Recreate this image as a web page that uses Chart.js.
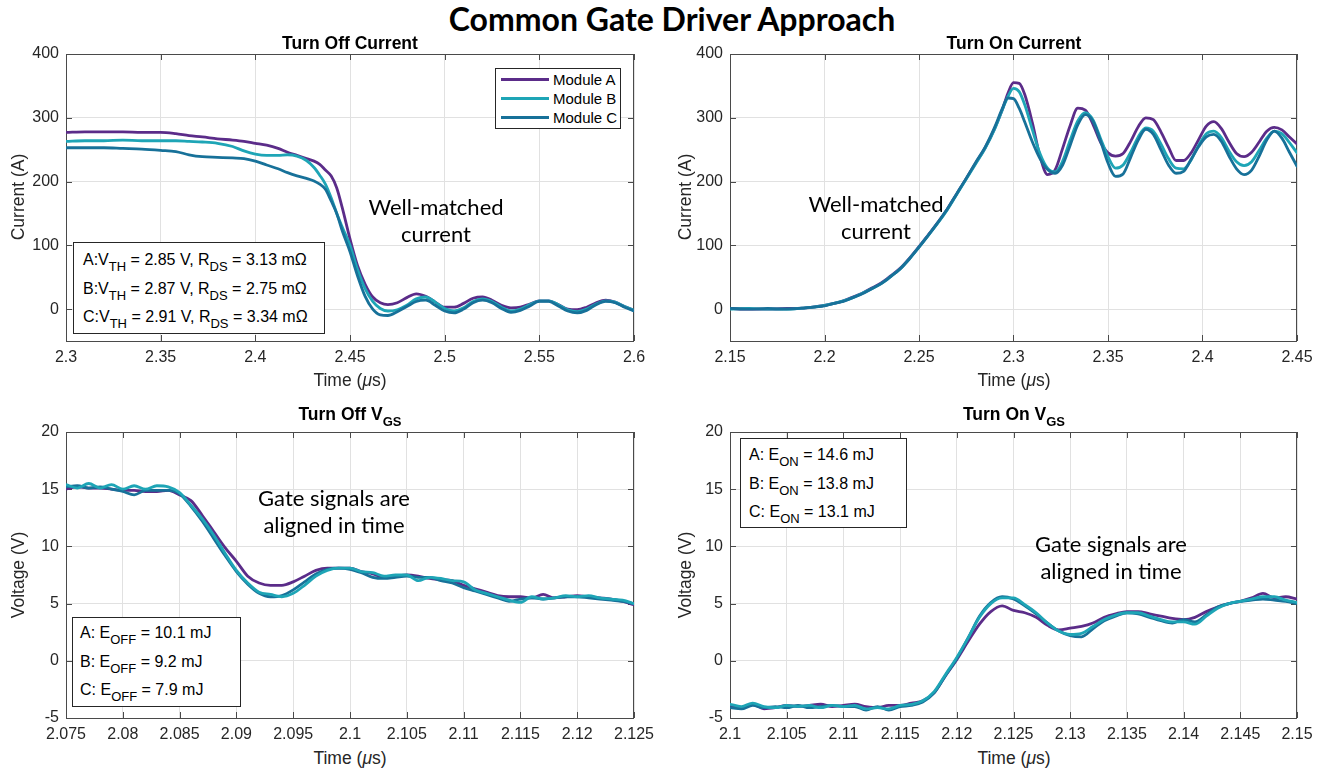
<!DOCTYPE html>
<html>
<head>
<meta charset="utf-8">
<title>Common Gate Driver Approach</title>
<script src="https://cdn.jsdelivr.net/npm/chart.js@4.4.1/dist/chart.umd.min.js"></script>
<style>
  html, body { margin: 0; padding: 0; background: #fff; }
  #page { position: relative; width: 1323px; height: 771px; overflow: hidden;
          font-family: "Liberation Sans", Arial, Helvetica, sans-serif; color: #000; }
  canvas { position: absolute; }
  .txt { position: absolute; white-space: nowrap; line-height: 1; }
  .ctr { transform: translateX(-50%); }
  .main { font-family: Lato, "Open Sans", sans-serif; font-weight: 700; font-size: 32px; }
  .ptitle { font-weight: 700; font-size: 17.5px; color: #000; }
  .ptitle .s { font-size: 13px; position: relative; top: 6px; }
  .axis { font-size: 17.5px; color: #262626; }
  .yaxis { transform: translate(-50%, -50%) rotate(-90deg); }
  .note { position: absolute; font-family: Lato, "Open Sans", sans-serif; font-size: 22px;
          line-height: 27px; text-align: center; transform: translateX(-50%); white-space: nowrap; }
  .box { position: absolute; background: #fff; border: 1px solid #262626; box-sizing: border-box;
         font-size: 16px; color: #000; }
  .box div { line-height: 27.5px; white-space: nowrap; }
  .box .s { font-size: 13px; position: relative; top: 6px; }
  .legend { position: absolute; background: #fff; border: 1px solid #262626; box-sizing: border-box; }
  .legend .sw { position: absolute; left: 5px; width: 48px; height: 3px; }
  .legend .lt { position: absolute; left: 57px; font-size: 15px; line-height: 1; white-space: nowrap; }
</style>
</head>
<body>
<div id="page">
  <div class="txt main ctr" style="left:672px; top:3px;">Common Gate Driver Approach</div>

  <canvas id="offCurrent"></canvas>
  <canvas id="onCurrent"></canvas>
  <canvas id="offVgs"></canvas>
  <canvas id="onVgs"></canvas>

  <!-- panel titles -->
  <div class="txt ptitle ctr" style="left:350px; top:35px;">Turn Off Current</div>
  <div class="txt ptitle ctr" style="left:1014px; top:35px;">Turn On Current</div>
  <div class="txt ptitle ctr" style="left:350px; top:406px;">Turn Off V<span class="s">GS</span></div>
  <div class="txt ptitle ctr" style="left:1014px; top:406px;">Turn On V<span class="s">GS</span></div>

  <!-- axis titles -->
  <div class="txt axis yaxis" style="left:19px; top:197px;">Current (A)</div>
  <div class="txt axis yaxis" style="left:686px; top:197px;">Current (A)</div>
  <div class="txt axis yaxis" style="left:19px; top:575px;">Voltage (V)</div>
  <div class="txt axis yaxis" style="left:686px; top:575px;">Voltage (V)</div>
  <div class="txt axis ctr" style="left:350px; top:372px;">Time (<i>μ</i>s)</div>
  <div class="txt axis ctr" style="left:1014px; top:372px;">Time (<i>μ</i>s)</div>
  <div class="txt axis ctr" style="left:350px; top:750px;">Time (<i>μ</i>s)</div>
  <div class="txt axis ctr" style="left:1014px; top:750px;">Time (<i>μ</i>s)</div>

  <!-- callouts -->
  <div class="note" style="left:436px; top:193px;">Well-matched<br>current</div>
  <div class="note" style="left:876px; top:190px;">Well-matched<br>current</div>
  <div class="note" style="left:334px; top:484px;">Gate signals are<br>aligned in time</div>
  <div class="note" style="left:1111px; top:530px;">Gate signals are<br>aligned in time</div>

  <!-- device parameter boxes -->
  <div class="box" style="left:73px; top:242px; width:252px; height:92px; padding:3px 0 0 9px;">
    <div>A:V<span class="s">TH</span> = 2.85 V, R<span class="s">DS</span> = 3.13 mΩ</div>
    <div>B:V<span class="s">TH</span> = 2.87 V, R<span class="s">DS</span> = 2.75 mΩ</div>
    <div>C:V<span class="s">TH</span> = 2.91 V, R<span class="s">DS</span> = 3.34 mΩ</div>
  </div>
  <div class="box" style="left:72px; top:617px; width:169px; height:90px; padding:1px 0 0 7px;">
    <div>A: E<span class="s">OFF</span> = 10.1 mJ</div>
    <div>B: E<span class="s">OFF</span> = 9.2 mJ</div>
    <div>C: E<span class="s">OFF</span> = 7.9 mJ</div>
  </div>
  <div class="box" style="left:740px; top:438px; width:167px; height:90px; padding:2px 0 0 8px;">
    <div>A: E<span class="s">ON</span> = 14.6 mJ</div>
    <div>B: E<span class="s">ON</span> = 13.8 mJ</div>
    <div>C: E<span class="s">ON</span> = 13.1 mJ</div>
  </div>

  <div class="legend" id="legend" style="left:495px; top:68px; width:126px; height:61px;"></div>
</div>

<script>
// ---- Turn-off drain current (A) versus time (µs) ----
const tOffI = [2.300, 2.310, 2.320, 2.330, 2.340, 2.350, 2.358, 2.365, 2.372, 2.380,
               2.388, 2.394, 2.400, 2.406, 2.412, 2.417, 2.422, 2.427, 2.431, 2.434,
               2.437, 2.440, 2.443, 2.446, 2.450, 2.454, 2.458, 2.462, 2.466, 2.470,
               2.475, 2.480, 2.485, 2.490, 2.495, 2.500, 2.505, 2.510, 2.515, 2.520,
               2.525, 2.530, 2.535, 2.540, 2.545, 2.550, 2.555, 2.560, 2.565, 2.570,
               2.575, 2.580, 2.585, 2.590, 2.595, 2.600];
const offIA = [277, 278, 278, 278, 277, 277, 275, 272, 270, 267,
               265, 263, 260, 257, 252, 246, 241, 236, 232, 227,
               218, 209, 190, 158, 110, 68, 39, 19, 10, 7,
               10, 18, 24, 20, 11, 3, 3, 9, 17, 19,
               14, 6, 2, 3, 8, 13, 13, 7, 0, -1,
               3, 10, 14, 11, 4, -2];
const offIB = [263, 264, 264, 265, 264, 264, 264, 263, 262, 260,
               255, 248, 243, 241, 241, 242, 240, 233, 222, 210,
               196, 175, 150, 128, 100, 62, 32, 12, 1, -3,
               -1, 6, 16, 19, 11, 1, -3, 2, 12, 16,
               12, 3, -3, 0, 7, 13, 13, 7, -1, -4,
               0, 8, 13, 11, 4, -2];
const offIC = [253, 253, 253, 252, 251, 249, 247, 242, 239, 238,
               237, 236, 232, 226, 220, 214, 209, 205, 201, 196,
               188, 170, 150, 122, 90, 52, 20, 0, -9, -10,
               -4, 4, 12, 14, 6, -3, -6, 0, 10, 14,
               10, 1, -5, -2, 5, 12, 12, 5, -3, -6,
               -2, 7, 12, 10, 3, -3];
const offITicks = [2.3, 2.35, 2.4, 2.45, 2.5, 2.55, 2.6];

// ---- Turn-on drain current (A) versus time (µs) ----
const tOnI = [2.150, 2.160, 2.170, 2.180, 2.190, 2.200, 2.205, 2.210, 2.215, 2.220,
              2.225, 2.230, 2.235, 2.240, 2.245, 2.250, 2.255, 2.260, 2.265, 2.270,
              2.275, 2.280, 2.285, 2.290, 2.294, 2.297, 2.300, 2.303, 2.306, 2.310,
              2.314, 2.318, 2.322, 2.326, 2.330, 2.334, 2.338, 2.342, 2.346, 2.350,
              2.354, 2.358, 2.362, 2.366, 2.370, 2.374, 2.378, 2.382, 2.386, 2.390,
              2.394, 2.398, 2.402, 2.406, 2.410, 2.414, 2.418, 2.422, 2.426, 2.430,
              2.434, 2.438, 2.442, 2.446, 2.450];
const onIA = [1, 0, 0, 1, 2, 6, 9, 13, 19, 25,
              33, 41, 52, 64, 80, 98, 117, 136, 157, 181,
              205, 229, 253, 283, 312, 338, 355, 354, 336, 292,
              240, 211, 218, 252, 288, 315, 312, 290, 262, 245,
              240, 244, 263, 286, 300, 297, 278, 254, 233, 233,
              245, 266, 287, 294, 283, 262, 244, 239, 246, 262,
              279, 285, 281, 270, 259];
const onIB = [0, 1, 0, 0, 2, 6, 9, 13, 18, 25,
              32, 40, 51, 63, 79, 97, 116, 135, 156, 180,
              204, 228, 252, 282, 312, 333, 346, 341, 320, 281,
              244, 221, 215, 232, 265, 295, 308, 297, 268, 239,
              221, 226, 246, 270, 284, 279, 259, 236, 221, 220,
              234, 257, 275, 279, 269, 248, 231, 225, 231, 249,
              268, 279, 275, 261, 245];
const onIC = [1, 0, 1, 0, 2, 5, 9, 12, 18, 24,
              32, 40, 51, 63, 79, 97, 116, 136, 157, 181,
              205, 230, 254, 285, 314, 331, 330, 315, 293, 262,
              236, 219, 213, 226, 257, 289, 305, 295, 264, 229,
              208, 212, 238, 265, 282, 274, 250, 226, 213, 216,
              235, 255, 270, 274, 263, 240, 220, 211, 218, 240,
              265, 279, 268, 246, 224];
const onITicks = [2.15, 2.2, 2.25, 2.3, 2.35, 2.4, 2.45];
const currentTicks = [0, 100, 200, 300, 400];

// ---- Turn-off gate-source voltage (V) versus time (µs) ----
const tOffV = [2.075, 2.076, 2.077, 2.078, 2.079, 2.080, 2.081, 2.082, 2.083, 2.084,
               2.085, 2.086, 2.087, 2.088, 2.089, 2.090, 2.091, 2.092, 2.093, 2.094,
               2.095, 2.096, 2.097, 2.098, 2.099, 2.100, 2.101, 2.102, 2.103, 2.104,
               2.105, 2.106, 2.107, 2.108, 2.109, 2.110, 2.111, 2.112, 2.113, 2.114,
               2.115, 2.116, 2.117, 2.118, 2.119, 2.120, 2.121, 2.122, 2.123, 2.124,
               2.125];
const offVA = [15.0, 15.2, 15.1, 15.1, 15.0, 14.9, 14.9, 14.8, 14.8, 14.9,
               14.5, 14.0, 12.7, 11.3, 9.9, 8.7, 7.4, 6.8, 6.6, 6.6,
               6.9, 7.4, 7.9, 8.1, 8.1, 8.1, 7.8, 7.6, 7.3, 7.4,
               7.5, 7.4, 7.2, 7.1, 7.0, 6.6, 6.3, 6.0, 5.7, 5.6,
               5.6, 5.5, 5.8, 5.5, 5.6, 5.7, 5.6, 5.5, 5.4, 5.2,
               4.9];
const offVB = [15.4, 15.1, 15.5, 15.1, 15.4, 15.0, 15.3, 15.0, 15.3, 15.2,
               14.7, 13.6, 12.4, 11.0, 9.4, 7.9, 6.8, 6.0, 5.8, 5.6,
               5.9, 6.6, 7.4, 7.9, 8.1, 8.1, 7.8, 7.7, 7.4, 7.5,
               7.5, 7.0, 7.3, 7.2, 7.0, 6.9, 6.2, 5.9, 5.6, 5.3,
               5.1, 5.6, 5.4, 5.5, 5.7, 5.6, 5.7, 5.5, 5.4, 5.3,
               5.0];
const offVC = [15.2, 15.3, 15.1, 15.2, 15.0, 14.8, 14.5, 14.9, 14.9, 14.9,
               14.6, 13.5, 12.2, 10.7, 9.2, 7.8, 6.7, 5.9, 5.6, 5.7,
               6.2, 6.9, 7.6, 8.0, 8.1, 8.0, 7.7, 7.3, 7.2, 7.3,
               7.4, 7.3, 7.3, 7.0, 6.8, 6.4, 6.1, 5.8, 5.5, 5.2,
               5.4, 5.5, 5.4, 5.5, 5.6, 5.6, 5.5, 5.4, 5.3, 5.2,
               5.0];
const offVTicks = [2.075, 2.08, 2.085, 2.09, 2.095, 2.1, 2.105, 2.11, 2.115, 2.12, 2.125];

// ---- Turn-on gate-source voltage (V) versus time (µs) ----
const tOnV = [2.100, 2.101, 2.102, 2.103, 2.104, 2.105, 2.106, 2.107, 2.108, 2.109,
              2.110, 2.111, 2.112, 2.113, 2.114, 2.115, 2.116, 2.117, 2.118, 2.119,
              2.120, 2.121, 2.122, 2.123, 2.124, 2.125, 2.126, 2.127, 2.128, 2.129,
              2.130, 2.131, 2.132, 2.133, 2.134, 2.135, 2.136, 2.137, 2.138, 2.139,
              2.140, 2.141, 2.142, 2.143, 2.144, 2.145, 2.146, 2.147, 2.148, 2.149,
              2.150];
const onVA = [-3.9, -4.1, -3.8, -4.2, -4.1, -3.9, -4.0, -3.9, -3.8, -4.0,
              -3.9, -3.8, -4.0, -4.1, -3.9, -3.9, -3.7, -3.5, -2.8, -1.3,
              0.1, 1.7, 3.2, 4.3, 4.8, 4.4, 4.2, 3.8, 3.1, 2.7,
              2.85, 3.0, 3.3, 3.8, 4.1, 4.3, 4.3, 4.1, 3.9, 3.7,
              3.6, 3.8, 4.3, 4.7, 5.0, 5.2, 5.5, 5.9, 5.5, 5.6,
              5.4];
const onVB = [-3.8, -4.0, -3.7, -4.0, -4.1, -3.9, -4.0, -3.9, -4.1, -3.9,
              -4.0, -3.9, -4.2, -4.1, -4.2, -3.9, -3.8, -3.5, -2.7, -1.2,
              0.3, 2.0, 3.8, 5.0, 5.5, 5.5, 4.9, 4.2, 3.3, 2.6,
              2.3, 2.4, 3.0, 3.6, 4.0, 4.2, 4.2, 3.9, 3.6, 3.4,
              3.4, 3.2, 3.9, 4.6, 5.0, 5.2, 5.4, 5.6, 5.6, 5.3,
              5.1];
const onVC = [-4.1, -4.2, -3.9, -4.1, -4.0, -4.1, -3.9, -4.1, -4.0, -3.9,
              -4.0, -4.0, -4.3, -4.0, -4.3, -4.0, -3.9, -3.6, -2.8, -1.3,
              0.2, 2.0, 3.9, 5.1, 5.6, 5.4, 4.8, 4.1, 3.3, 2.6,
              2.2, 2.1, 2.8, 3.5, 3.9, 4.2, 4.1, 3.8, 3.5, 3.3,
              3.6, 3.4, 4.0, 4.7, 5.0, 5.2, 5.3, 5.4, 5.3, 5.2,
              5.0];
const onVTicks = [2.1, 2.105, 2.11, 2.115, 2.12, 2.125, 2.13, 2.135, 2.14, 2.145, 2.15];
const vgsTicks = [-5, 0, 5, 10, 15, 20];

const moduleNames = ['Module A', 'Module B', 'Module C'];

// ---- styling ----
const lineColors = ['#5b2c89', '#1ea5b6', '#177199'];
const gridColor = '#e1e1e1';
const frameColor = '#4a4a4a';
const PAD_L = 60, PAD_R = 26, PAD_T = 12, PAD_B = 30;

// axes box with inward tick marks on all four sides, drawn beneath the traces
const framePlugin = {
  id: 'frame',
  beforeDatasetsDraw(chart) {
    const { ctx, chartArea: a, scales: { x, y } } = chart;
    const L = 6;
    ctx.save();
    ctx.strokeStyle = frameColor;
    ctx.lineWidth = 1;
    ctx.beginPath();
    x.ticks.forEach(t => {
      const px = Math.round(x.getPixelForValue(t.value)) + 0.5;
      ctx.moveTo(px, a.bottom); ctx.lineTo(px, a.bottom - L);
      ctx.moveTo(px, a.top); ctx.lineTo(px, a.top + L);
    });
    y.ticks.forEach(t => {
      const py = Math.round(y.getPixelForValue(t.value)) + 0.5;
      ctx.moveTo(a.left, py); ctx.lineTo(a.left + L, py);
      ctx.moveTo(a.right, py); ctx.lineTo(a.right - L, py);
    });
    ctx.stroke();
    ctx.strokeRect(Math.round(a.left) + 0.5, Math.round(a.top) + 0.5,
                   Math.round(a.right - a.left) - 1, Math.round(a.bottom - a.top));
    ctx.restore();
  }
};

function makePanel(id, plot, t, series, order, xTicks, yTicks, xMin, xMax, yMin, yMax) {
  const cv = document.getElementById(id);
  cv.width = plot.w + PAD_L + PAD_R;
  cv.height = plot.h + PAD_T + PAD_B;
  cv.style.left = (plot.x - PAD_L) + 'px';
  cv.style.top = (plot.y - PAD_T) + 'px';
  const tickFont = { family: '"Liberation Sans", Arial, sans-serif', size: 16 };
  return new Chart(cv, {
    type: 'line',
    data: {
      datasets: series.map((vals, i) => ({
        label: moduleNames[i],
        data: t.map((tt, k) => ({ x: tt, y: vals[k] })),
        borderColor: lineColors[i],
        borderWidth: 2.8,
        borderJoinStyle: 'round',
        borderCapStyle: 'round',
        pointRadius: 0,
        fill: false,
        cubicInterpolationMode: 'monotone',
        order: order[i]
      }))
    },
    options: {
      responsive: false,
      animation: false,
      events: [],
      layout: { padding: { left: 0, right: PAD_R, top: PAD_T, bottom: 0 } },
      plugins: { legend: { display: false }, tooltip: { enabled: false }, title: { display: false } },
      scales: {
        x: {
          type: 'linear', min: xMin, max: xMax,
          afterBuildTicks: s => { s.ticks = xTicks.map(v => ({ value: v })); },
          afterFit: s => { s.height = PAD_B; s.paddingLeft = 0; s.paddingRight = 0; },
          grid: { color: gridColor, lineWidth: 1, drawTicks: false },
          border: { display: false },
          ticks: { padding: 7, color: '#262626', font: tickFont, maxRotation: 0, autoSkip: false,
                   callback: v => String(v) }
        },
        y: {
          type: 'linear', min: yMin, max: yMax,
          afterBuildTicks: s => { s.ticks = yTicks.map(v => ({ value: v })); },
          afterFit: s => { s.width = PAD_L; s.paddingTop = 0; s.paddingBottom = 0; },
          grid: { color: gridColor, lineWidth: 1, drawTicks: false },
          border: { display: false },
          ticks: { padding: 7, color: '#262626', font: tickFont, autoSkip: false,
                   callback: v => String(v) }
        }
      }
    },
    plugins: [framePlugin]
  });
}

// plot areas (page pixels)
const leftTop  = { x: 66,  y: 54,  w: 568, h: 287 };
const rightTop = { x: 730, y: 54,  w: 567, h: 287 };
const leftBot  = { x: 66,  y: 432, w: 568, h: 286 };
const rightBot = { x: 730, y: 432, w: 567, h: 286 };

makePanel('offCurrent', leftTop, tOffI, [offIA, offIB, offIC], [3, 2, 1],
          offITicks, currentTicks, 2.3, 2.6, -50, 400);
makePanel('onCurrent', rightTop, tOnI, [onIA, onIB, onIC], [3, 2, 1],
          onITicks, currentTicks, 2.15, 2.45, -50, 400);
makePanel('offVgs', leftBot, tOffV, [offVA, offVB, offVC], [3, 1, 2],
          offVTicks, vgsTicks, 2.075, 2.125, -5, 20);
makePanel('onVgs', rightBot, tOnV, [onVA, onVB, onVC], [3, 1, 2],
          onVTicks, vgsTicks, 2.1, 2.15, -5, 20);

// legend for the turn-off current panel
const legend = document.getElementById('legend');
const legendRowY = [10, 29, 48];
moduleNames.forEach((name, i) => {
  const sw = document.createElement('div');
  sw.className = 'sw';
  sw.style.top = (legendRowY[i] - 1.5) + 'px';
  sw.style.background = lineColors[i];
  legend.appendChild(sw);
  const lt = document.createElement('div');
  lt.className = 'lt';
  lt.style.top = (legendRowY[i] - 7.5) + 'px';
  lt.textContent = name;
  legend.appendChild(lt);
});
</script>
</body>
</html>
